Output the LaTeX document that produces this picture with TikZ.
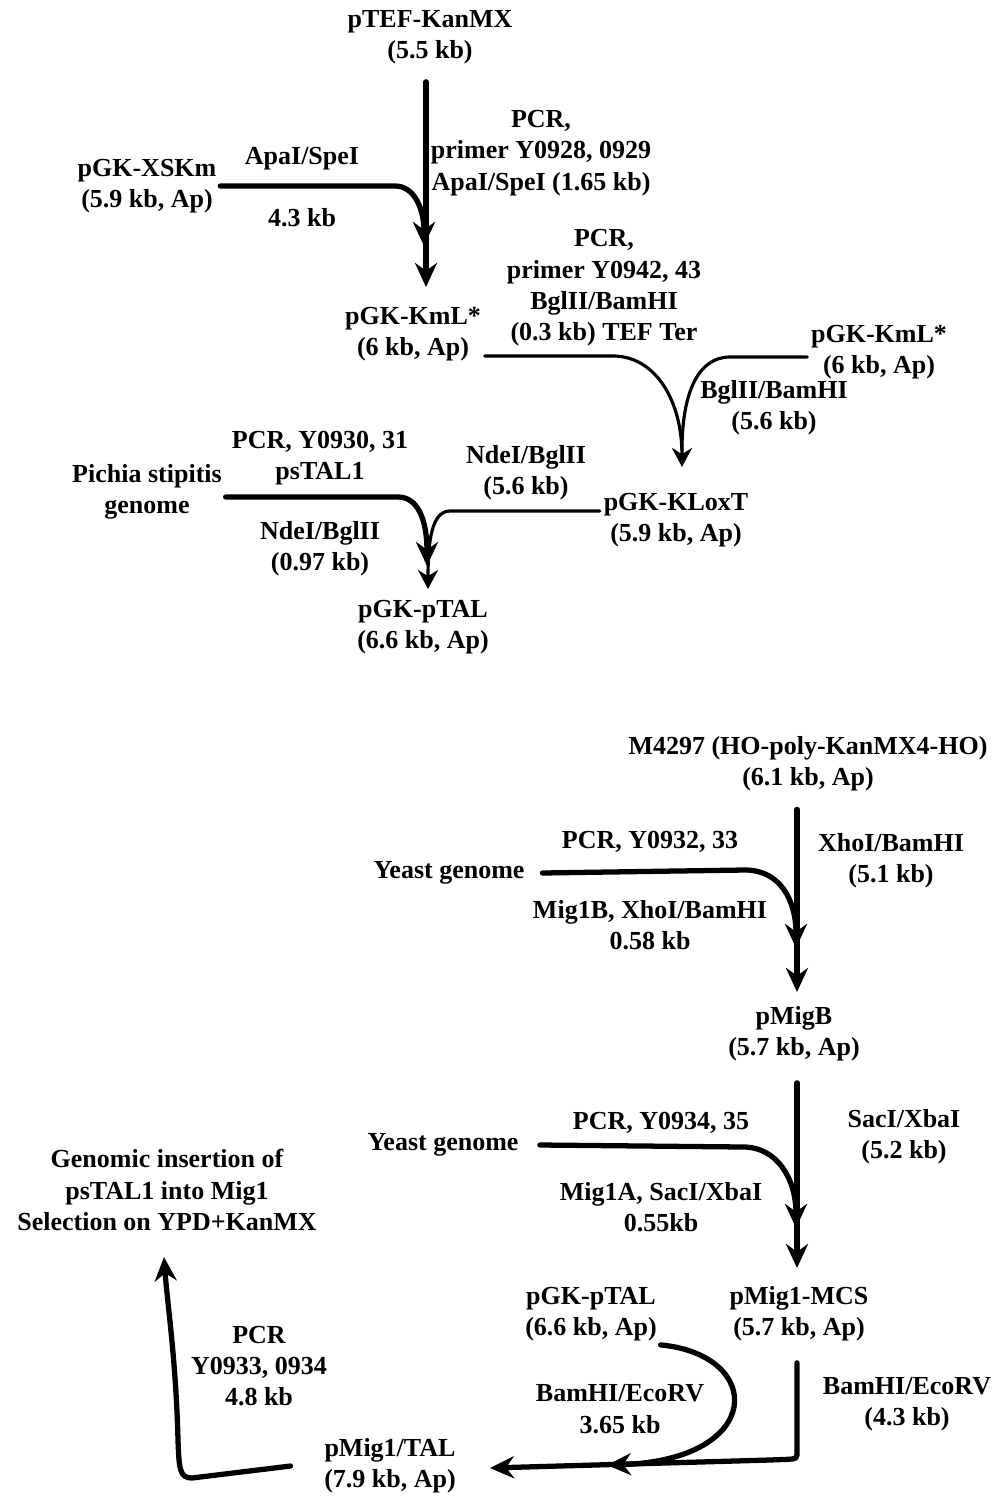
\documentclass[tikz,border=0pt]{standalone}
\usepackage{fontspec}
\setmainfont{Liberation Serif}
\usetikzlibrary{arrows.meta}
\begin{document}
\begin{tikzpicture}[x=0.02cm, y=-0.02cm, line join=round, line cap=round,
	font=\bfseries\fontsize{14.8pt}{17.8pt}\selectfont,
	>={Stealth[length=4.8mm, width=4.4mm]},
	txt/.style={align=center, inner sep=2pt},
	thk/.style={line width=3pt},
	thn/.style={line width=1.8pt, >={Stealth[length=3.8mm, width=4mm]}}]
				\useasboundingbox (0,0) rectangle (1000,1497);
				\node[txt] (kanmx) at (430,37) {pTEF-KanMX\\(5.5 kb)};
				\node[txt] (xskm) at (147,186) {pGK-XSKm\\(5.9 kb, Ap)};
				\node[txt] (apa) at (302,159) {ApaI/SpeI};
				\node[txt] (kbxsk) at (302,218) {4.3 kb};
				\node[txt] (pcra) at (541,153) {PCR,\\primer Y0928, 0929\\ApaI/SpeI (1.65 kb)};
				\node[txt] (kml) at (413,334) {pGK-KmL*\\(6 kb, Ap)};
				\node[txt] (pcrb) at (604,288) {PCR,\\primer Y0942, 43\\BglII/BamHI\\(0.3 kb) TEF Ter};
				\node[txt] (kmlb) at (879,352) {pGK-KmL*\\(6 kb, Ap)};
				\node[txt] (bglb) at (774,408) {BglII/BamHI\\(5.6 kb)};
				\node[txt] (kloxt) at (676,520) {pGK-KLoxT\\(5.9 kb, Ap)};
				\node[txt] (ndeb) at (526,473) {NdeI/BglII\\(5.6 kb)};
				\node[txt] (pichia) at (147,492) {Pichia stipitis\\genome};
				\node[txt] (pcrc) at (320,458) {PCR, Y0930, 31\\psTAL1};
				\node[txt] (ndea) at (320,549) {NdeI/BglII\\(0.97 kb)};
				\node[txt] (ptal) at (423,627) {pGK-pTAL\\(6.6 kb, Ap)};
				\node[txt] (mfour) at (808,764) {M4297 (HO-poly-KanMX4-HO)\\(6.1 kb, Ap)};
				\node[txt] (xho) at (891,861) {XhoI/BamHI\\(5.1 kb)};
				\node[txt] (yeasta) at (449,873) {Yeast genome};
				\node[txt] (pcrd) at (650,842) {PCR, Y0932, 33};
				\node[txt] (migb) at (650,925) {Mig1B, XhoI/BamHI\\0.58 kb};
				\node[txt] (pmigb) at (794,1034) {pMigB\\(5.7 kb, Ap)};
				\node[txt] (sac) at (904,1137) {SacI/XbaI\\(5.2 kb)};
				\node[txt] (yeastb) at (443,1145) {Yeast genome};
				\node[txt] (pcre) at (661,1123) {PCR, Y0934, 35};
				\node[txt] (miga) at (661,1207) {Mig1A, SacI/XbaI\\0.55kb};
				\node[txt] (genomic) at (167,1190) {Genomic insertion of\\psTAL1 into Mig1\\Selection on YPD+KanMX};
				\node[txt] (mcs) at (799,1314) {pMig1-MCS\\(5.7 kb, Ap)};
				\node[txt] (ptalb) at (591,1314) {pGK-pTAL\\(6.6 kb, Ap)};
				\node[txt] (ecoa) at (620,1409) {BamHI/EcoRV\\3.65 kb};
				\node[txt] (ecob) at (907,1404) {BamHI/EcoRV\\(4.3 kb)};
				\node[txt] (miktal) at (390,1466) {pMig1/TAL\\(7.9 kb, Ap)};
				\node[txt] (pcrf) at (259,1366) {PCR\\Y0933, 0934\\4.8 kb};
				\coordinate (ja) at (426,287);
				\coordinate (jb) at (682,467);
				\coordinate (ca) at (613,356);
				\coordinate (cb) at (730,357);
				\coordinate (cc) at (450,511);
				\coordinate (cd) at (398,497);
				\coordinate (jc) at (797,992);
				\coordinate (jd) at (797,1268);
				\coordinate (ce) at (797,1455);
				\coordinate (je) at (164,1257);
				\draw[thk,->,shorten <=8pt] (kanmx.south -| ja)--(ja);
				\draw[thk,->] (xskm.east)--(395,186) .. controls (415,186) and (424,210) .. (424,246);
				\draw[thn,->] (kml.east |- ca)--(ca) .. controls (655,356) and (682,400) .. (jb);
				\draw[thn] (kmlb.west |- cb)--(cb) .. controls (697,357) and (682,395) .. (682,450);
				\draw[thn,->] (kloxt.west |- cc)--(cc) .. controls (432,511) and (428,540) .. (428,589);
				\draw[thk,->] (pichia.east |- cd)--(cd) .. controls (418,497) and (427,520) .. (427,566);
				\draw[thk,->,shorten <=8pt] (mfour.south -| jc)--(jc);
				\draw[thk,->] ([xshift=8pt]yeasta.east)--(745,870) .. controls (780,870) and (796,900) .. (796,948);
				\draw[thk,->,shorten <=10pt] (pmigb.south -| jd)--(jd);
				\draw[thk,->] ([xshift=10pt]yeastb.east)--(743,1147) .. controls (778,1147) and (796,1180) .. (796,1228);
				\draw[thk,->] (ptalb.south east) .. controls (765,1355) and (765,1460) .. (607,1465);
				\draw[thk,->,shorten <=10pt] (mcs.south -| ce)--(ce) .. controls (797,1460) and (792,1459) .. (770,1460)--(490,1468);
				\draw[thk,->] ([xshift=-17pt]miktal.west)--(192,1478) .. controls (180,1478) and (179,1470) .. (178,1440) .. controls (176,1360) and (167,1300) .. (je);
			\end{tikzpicture}
\end{document}
